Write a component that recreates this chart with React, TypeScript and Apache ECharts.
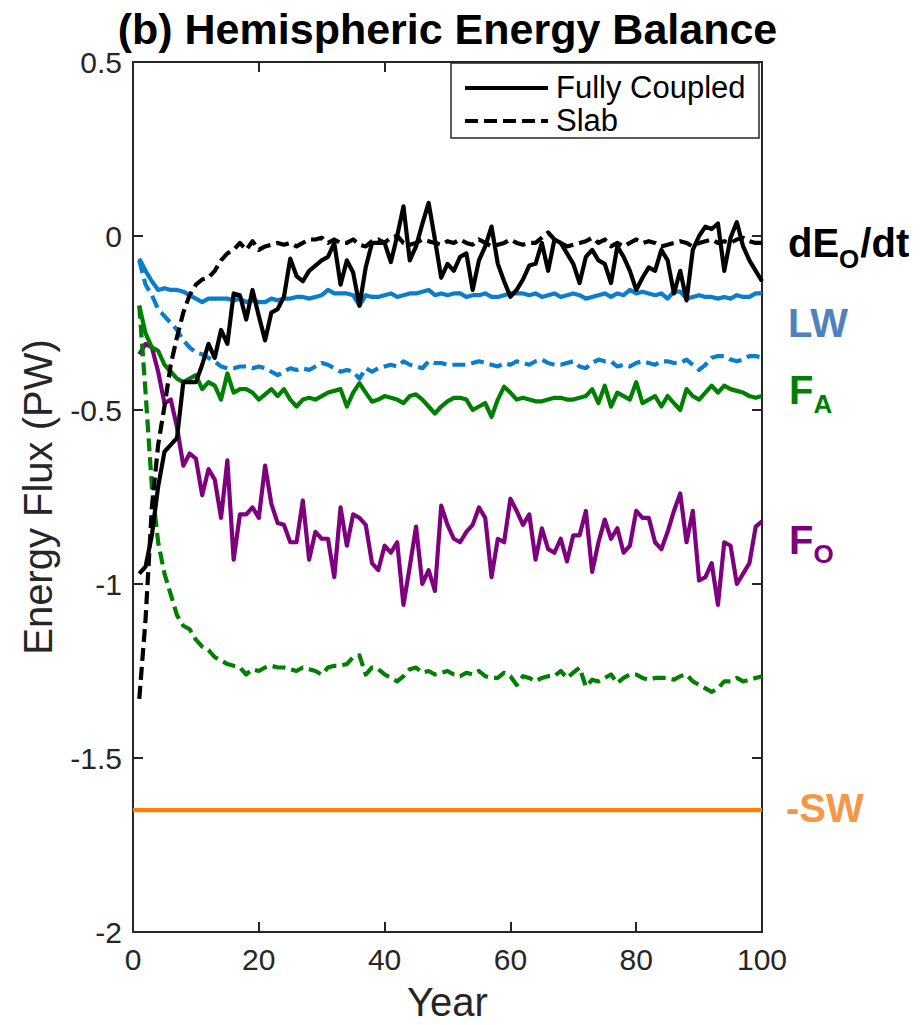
import React, { useEffect, useRef } from "react";
import * as echarts from "echarts";

const FONT = '"Liberation Sans", Arial, Helvetica, sans-serif';

const YEARS: number[] = Array.from({ length: 100 }, (_, i) => i + 1);

const coupledDE = [
  -0.97, -0.95, -0.86, -0.72, -0.62, -0.6, -0.58, -0.42, -0.42, -0.42,
  -0.37, -0.31, -0.35, -0.27, -0.31, -0.165, -0.17, -0.24, -0.155, -0.23,
  -0.3, -0.22, -0.21, -0.175, -0.065, -0.115, -0.13, -0.1, -0.085, -0.07,
  -0.06, -0.02, -0.14, -0.07, -0.105, -0.2, -0.09, -0.02, -0.02, -0.02,
  -0.075, 0.0, 0.085, -0.07, -0.03, 0.035, 0.095, -0.01, -0.12, -0.08,
  -0.1, -0.06, -0.05, -0.155, -0.07, -0.03, 0.027, -0.08, -0.13, -0.175,
  -0.155, -0.125, -0.085, -0.08, -0.02, -0.1, -0.01, -0.02, -0.05, -0.08,
  -0.135, -0.06, -0.04, -0.07, -0.08, -0.135, -0.03, -0.06, -0.1, -0.155,
  -0.12, -0.09, -0.1, -0.04, -0.07, -0.165, -0.1, -0.185, -0.04, 0.0,
  0.027, 0.02, 0.036, -0.1, -0.005, 0.04, -0.03, -0.07, -0.1, -0.13,
];

const slabDE = [
  -1.33, -1.1, -0.78, -0.6, -0.49, -0.37, -0.29, -0.22, -0.17, -0.14,
  -0.125, -0.12, -0.1, -0.07, -0.05, -0.04, -0.02, -0.04, -0.015, -0.04,
  -0.03, -0.025, -0.02, -0.025, -0.02, -0.03, -0.02, -0.01, -0.01, -0.005,
  -0.02, -0.01, -0.02, -0.02, -0.01, -0.025, -0.03, -0.015, -0.01, -0.02,
  -0.005, 0.0, -0.02, -0.025, -0.02, -0.01, -0.015, -0.02, -0.025, -0.015,
  -0.02, -0.01, -0.02, -0.025, -0.01, -0.02, -0.03, -0.025, -0.02, -0.01,
  -0.02, -0.025, -0.02, -0.02, -0.005, 0.01, -0.01, -0.02, -0.03, -0.025,
  -0.02, -0.015, -0.005, -0.02, -0.01, -0.03, -0.02, -0.03, -0.02, -0.01,
  -0.02, -0.015, -0.02, -0.03, -0.025, -0.02, -0.015, -0.02, -0.03, -0.02,
  -0.015, -0.01, -0.02, -0.015, -0.02, -0.01, -0.005, -0.015, -0.02, -0.02,
];

const coupledLW = [
  -0.065, -0.1, -0.13, -0.155, -0.15, -0.155, -0.155, -0.16, -0.17, -0.18,
  -0.19, -0.18, -0.18, -0.18, -0.18, -0.185, -0.18, -0.19, -0.185, -0.19,
  -0.19, -0.18, -0.185, -0.18, -0.18, -0.175, -0.175, -0.18, -0.175, -0.17,
  -0.155, -0.165, -0.165, -0.165, -0.17, -0.2, -0.17, -0.175, -0.175, -0.17,
  -0.165, -0.175, -0.17, -0.165, -0.165, -0.16, -0.155, -0.17, -0.165, -0.17,
  -0.165, -0.165, -0.175, -0.17, -0.17, -0.165, -0.175, -0.175, -0.17, -0.165,
  -0.165, -0.165, -0.17, -0.165, -0.175, -0.17, -0.165, -0.175, -0.17, -0.165,
  -0.17, -0.18, -0.175, -0.17, -0.165, -0.175, -0.165, -0.17, -0.155, -0.165,
  -0.16, -0.165, -0.17, -0.165, -0.18, -0.16, -0.16, -0.18, -0.175, -0.17,
  -0.175, -0.175, -0.18, -0.175, -0.18, -0.17, -0.175, -0.175, -0.165, -0.165,
];

const slabLW = [
  -0.07, -0.14, -0.17, -0.21, -0.23, -0.25, -0.27, -0.3, -0.32, -0.335,
  -0.34, -0.35, -0.36, -0.375, -0.38, -0.38, -0.375, -0.375, -0.38, -0.375,
  -0.38, -0.39, -0.4, -0.39, -0.38, -0.385, -0.38, -0.385, -0.375, -0.365,
  -0.37, -0.38, -0.39, -0.385, -0.39, -0.41, -0.38, -0.39, -0.38, -0.375,
  -0.37, -0.375, -0.36, -0.37, -0.375, -0.38, -0.36, -0.365, -0.365, -0.37,
  -0.37, -0.37, -0.37, -0.365, -0.36, -0.365, -0.37, -0.375, -0.365, -0.37,
  -0.36, -0.365, -0.37, -0.36, -0.355, -0.365, -0.37, -0.37, -0.365, -0.36,
  -0.375, -0.38, -0.365, -0.355, -0.36, -0.36, -0.375, -0.37, -0.375, -0.365,
  -0.36, -0.365, -0.37, -0.36, -0.36, -0.365, -0.365, -0.355, -0.37, -0.385,
  -0.37, -0.35, -0.345, -0.345, -0.355, -0.36, -0.355, -0.345, -0.345, -0.35,
];

const coupledFA = [
  -0.2, -0.28, -0.32, -0.33, -0.37, -0.39, -0.41, -0.42, -0.41, -0.4,
  -0.44, -0.42, -0.43, -0.47, -0.395, -0.45, -0.44, -0.44, -0.45, -0.47,
  -0.455, -0.44, -0.46, -0.44, -0.47, -0.49, -0.47, -0.465, -0.47, -0.46,
  -0.45, -0.445, -0.44, -0.49, -0.45, -0.423, -0.45, -0.476, -0.47, -0.46,
  -0.465, -0.47, -0.48, -0.46, -0.455, -0.47, -0.49, -0.51, -0.49, -0.475,
  -0.465, -0.465, -0.47, -0.5, -0.49, -0.48, -0.52, -0.47, -0.433, -0.45,
  -0.47, -0.465, -0.47, -0.475, -0.475, -0.47, -0.465, -0.465, -0.47, -0.47,
  -0.465, -0.46, -0.44, -0.48, -0.43, -0.49, -0.45, -0.46, -0.47, -0.42,
  -0.48, -0.47, -0.46, -0.49, -0.46, -0.48, -0.5, -0.44, -0.46, -0.47,
  -0.45, -0.43, -0.45, -0.43, -0.44, -0.445, -0.45, -0.46, -0.465, -0.46,
];

const slabFA = [
  -0.2, -0.45, -0.72, -0.88, -0.97, -1.03, -1.09, -1.12, -1.13, -1.16,
  -1.18, -1.19, -1.21, -1.22, -1.23, -1.235, -1.24, -1.26, -1.245, -1.25,
  -1.24, -1.235, -1.24, -1.24, -1.245, -1.25, -1.24, -1.245, -1.25, -1.26,
  -1.24, -1.235, -1.235, -1.23, -1.21, -1.205, -1.26, -1.24, -1.245, -1.26,
  -1.27, -1.28, -1.265, -1.245, -1.24, -1.255, -1.25, -1.26, -1.255, -1.25,
  -1.26, -1.265, -1.255, -1.26, -1.25, -1.265, -1.27, -1.27, -1.255, -1.265,
  -1.29, -1.265, -1.27, -1.28, -1.27, -1.265, -1.265, -1.25, -1.27, -1.255,
  -1.24, -1.295, -1.275, -1.28, -1.27, -1.26, -1.285, -1.27, -1.26, -1.26,
  -1.27, -1.275, -1.27, -1.27, -1.27, -1.275, -1.265, -1.26, -1.28, -1.29,
  -1.3, -1.31, -1.3, -1.28, -1.28, -1.27, -1.28, -1.275, -1.27, -1.265,
];

const coupledFO = [
  -0.34, -0.31, -0.32, -0.39, -0.48, -0.47, -0.55, -0.66, -0.625, -0.64,
  -0.745, -0.67, -0.7, -0.81, -0.645, -0.93, -0.8, -0.8, -0.78, -0.81,
  -0.66, -0.77, -0.825, -0.83, -0.88, -0.88, -0.76, -0.93, -0.85, -0.87,
  -0.87, -0.98, -0.78, -0.89, -0.8, -0.81, -0.83, -0.94, -0.96, -0.89,
  -0.91, -0.88, -1.06, -0.95, -0.835, -1.0, -0.96, -1.02, -0.775, -0.83,
  -0.87, -0.88, -0.85, -0.83, -0.78, -0.81, -0.98, -0.87, -0.88, -0.755,
  -0.79, -0.83, -0.8, -0.93, -0.84, -0.9, -0.91, -0.87, -0.935, -0.86,
  -0.86, -0.79, -0.965, -0.88, -0.815, -0.87, -0.84, -0.91, -0.89, -0.79,
  -0.81, -0.81, -0.88, -0.9, -0.85, -0.79, -0.74, -0.88, -0.79, -0.99,
  -0.98, -0.94, -1.06, -0.88, -0.89, -1.0, -0.97, -0.94, -0.835, -0.82,
];

const swYears = [0, 100];
const swValues = [-1.65, -1.65];

const xTicks = [0, 20, 40, 60, 80, 100];
const yTicks = [-2, -1.5, -1, -0.5, 0, 0.5];

const C_BLACK = "#000000";
const C_BLUE = "#0a7dcc";
const C_GREEN = "#008000";
const C_PURPLE = "#7e007e";
const C_ORANGE = "#ff8000";
const AXIS = "#262626";
const DASH = [13, 6];
const LW = 4.2;

function measure(text: string, font: string): number {
  const c = document.createElement("canvas").getContext("2d");
  if (!c) return text.length * 20;
  c.font = font;
  return c.measureText(text).width;
}

function lineSeries(name: string, xs: number[], vals: number[], color: string, dashed: boolean, z: number) {
  return {
    type: "line",
    name,
    data: vals.map((v, i) => [xs[i], v]),
    showSymbol: false,
    symbol: "none",
    silent: true,
    z,
    lineStyle: { color, width: LW, type: dashed ? DASH : "solid", cap: "butt", join: "round" },
    itemStyle: { color },
  };
}

export default function App() {
  const ref = useRef<HTMLDivElement>(null);
  useEffect(() => {
    document.body.style.margin = "0";
    if (!ref.current) return;
    const chart = echarts.init(ref.current, undefined, { renderer: "svg" });

    const L = 133, R = 762, T = 62, B = 932;
    const bold40 = `bold 40px ${FONT}`;
    const bold26 = `bold 26px ${FONT}`;
    const wdE = measure("dE", bold40);
    const wO = measure("O", bold26);
    const wF = measure("F", bold40);
    const lx = 788;

    const axisCommon = {
      type: "value",
      axisLine: { show: true, onZero: false, lineStyle: { color: AXIS, width: 2 } },
      axisTick: { show: true, inside: true, length: 10, lineStyle: { color: AXIS, width: 2 } },
      splitLine: { show: false },
    };

    const option: any = {
      animation: false,
      backgroundColor: "#ffffff",
      grid: { left: L, top: T, width: R - L, height: B - T, containLabel: false },
      xAxis: [
        {
          ...axisCommon,
          min: xTicks[0],
          max: xTicks[xTicks.length - 1],
          interval: 20,
          position: "bottom",
          axisLabel: { fontSize: 30, color: AXIS, margin: 12, fontFamily: FONT },
        },
        {
          ...axisCommon,
          min: xTicks[0],
          max: xTicks[xTicks.length - 1],
          interval: 20,
          position: "top",
          axisLabel: { show: false },
        },
      ],
      yAxis: [
        {
          ...axisCommon,
          min: yTicks[0],
          max: yTicks[yTicks.length - 1],
          interval: 0.5,
          position: "left",
          axisLabel: { fontSize: 30, color: AXIS, margin: 11, fontFamily: FONT },
        },
        {
          ...axisCommon,
          min: yTicks[0],
          max: yTicks[yTicks.length - 1],
          interval: 0.5,
          position: "right",
          axisLabel: { show: false },
        },
      ],
      series: [
        lineSeries("-SW", swYears, swValues, C_ORANGE, false, 2),
        lineSeries("F_O", YEARS, coupledFO, C_PURPLE, false, 3),
        lineSeries("F_A slab", YEARS, slabFA, C_GREEN, true, 3),
        lineSeries("F_A", YEARS, coupledFA, C_GREEN, false, 4),
        lineSeries("LW slab", YEARS, slabLW, C_BLUE, true, 4),
        lineSeries("LW", YEARS, coupledLW, C_BLUE, false, 5),
        lineSeries("dE slab", YEARS, slabDE, C_BLACK, true, 5),
        lineSeries("dE", YEARS, coupledDE, C_BLACK, false, 6),
      ],
      graphic: [
        {
          type: "text",
          x: (L + R) / 2,
          y: 29,
          style: { text: "(b) Hemispheric Energy Balance", fontSize: 43, fontWeight: "bold", fontFamily: FONT, fill: "#000", align: "center", verticalAlign: "middle" },
        },
        {
          type: "text",
          x: 38,
          y: (T + B) / 2,
          rotation: Math.PI / 2,
          style: { text: "Energy Flux (PW)", fontSize: 40, fontFamily: FONT, fill: AXIS, align: "center", verticalAlign: "middle" },
        },
        {
          type: "text",
          x: (L + R) / 2,
          y: 1002,
          style: { text: "Year", fontSize: 40, fontFamily: FONT, fill: AXIS, align: "center", verticalAlign: "middle" },
        },
        // legend
        {
          type: "rect",
          z: 100,
          shape: { x: 451, y: 63, width: 308, height: 75 },
          style: { fill: "#ffffff", stroke: AXIS, lineWidth: 1.5 },
        },
        {
          type: "line",
          z: 101,
          shape: { x1: 465, y1: 88, x2: 548, y2: 88 },
          style: { stroke: C_BLACK, lineWidth: LW },
        },
        {
          type: "line",
          z: 101,
          shape: { x1: 465, y1: 121, x2: 548, y2: 121 },
          style: { stroke: C_BLACK, lineWidth: LW, lineDash: DASH },
        },
        {
          type: "text",
          z: 101,
          x: 556,
          y: 87,
          style: { text: "Fully Coupled", fontSize: 31, fontFamily: FONT, fill: "#000", align: "left", verticalAlign: "middle" },
        },
        {
          type: "text",
          z: 101,
          x: 556,
          y: 120,
          style: { text: "Slab", fontSize: 31, fontFamily: FONT, fill: "#000", align: "left", verticalAlign: "middle" },
        },
        // right-side labels
        { type: "text", x: lx, y: 243, style: { text: "dE", font: bold40, fill: C_BLACK, align: "left", verticalAlign: "middle" } },
        { type: "text", x: lx + wdE, y: 259, style: { text: "O", font: bold26, fill: C_BLACK, align: "left", verticalAlign: "middle" } },
        { type: "text", x: lx + wdE + wO + 1, y: 243, style: { text: "/dt", font: bold40, fill: C_BLACK, align: "left", verticalAlign: "middle" } },
        { type: "text", x: lx, y: 323, style: { text: "LW", font: bold40, fill: "#4f81bd", align: "left", verticalAlign: "middle" } },
        { type: "text", x: lx + 1, y: 390, style: { text: "F", font: bold40, fill: C_GREEN, align: "left", verticalAlign: "middle" } },
        { type: "text", x: lx + 1 + wF, y: 404, style: { text: "A", font: bold26, fill: C_GREEN, align: "left", verticalAlign: "middle" } },
        { type: "text", x: lx + 1, y: 540, style: { text: "F", font: bold40, fill: C_PURPLE, align: "left", verticalAlign: "middle" } },
        { type: "text", x: lx + 1 + wF, y: 554, style: { text: "O", font: bold26, fill: C_PURPLE, align: "left", verticalAlign: "middle" } },
        { type: "text", x: lx - 2, y: 808, style: { text: "-SW", font: bold40, fill: "#f79646", align: "left", verticalAlign: "middle" } },
      ],
    };

    chart.setOption(option);
    return () => chart.dispose();
  }, []);

  return <div ref={ref} style={{ width: 924, height: 1025 }} />;
}
